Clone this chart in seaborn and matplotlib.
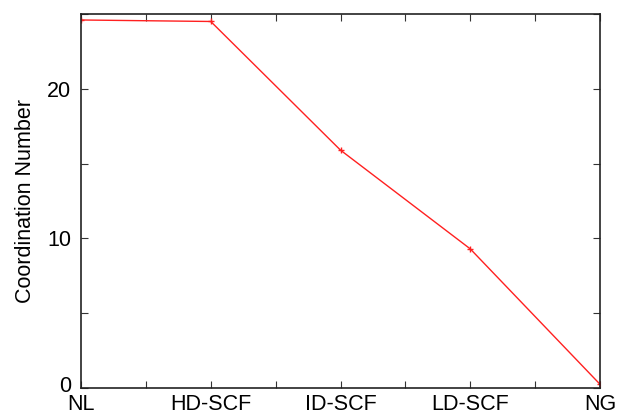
import numpy as np
import pandas as pd
import matplotlib
matplotlib.use("Agg")
import matplotlib.pyplot as plt
import matplotlib.transforms as mtransforms
import seaborn as sns
from matplotlib.ticker import MultipleLocator

# phases and coordination numbers
phases = ["NL", "HD-SCF", "ID-SCF", "LD-SCF", "NG"]
coord_num = [24.6, 24.5, 15.9, 9.3, 0.25]

df = pd.DataFrame({"phase": phases, "cn": coord_num})

sns.set_style("ticks")
plt.rcParams["font.family"] = ["Liberation Sans", "DejaVu Sans"]

fig = plt.figure(figsize=(6.18, 4.17), dpi=100)
ax = fig.add_axes([81 / 618, 1 - 388 / 417, (600 - 81) / 618, (388 - 14) / 417])

red = "#ff2020"
sns.lineplot(data=df, x="phase", y="cn", ax=ax, color=red, lw=1.0,
             marker="+", markersize=5, markeredgewidth=1.0, mec=red, sort=False)

ax.set_xlim(0, len(phases) - 1)
ax.set_ylim(0, 25)
ax.set_xlabel("")
ax.set_ylabel("Coordination Number", fontsize=15.5, color="black", labelpad=8)
ax.yaxis.set_major_locator(MultipleLocator(10))
ax.yaxis.set_minor_locator(MultipleLocator(5))
ax.xaxis.set_minor_locator(MultipleLocator(0.5))

ax.tick_params(which="both", direction="in", top=True, right=True, labelsize=15.5,
               length=5, width=0.8, color="#333333", labelcolor="black")
ax.tick_params(axis="y", pad=7)
ax.tick_params(axis="x", pad=4)
for s in ax.spines.values():
    s.set_linewidth(1.2)
    s.set_color("#222222")

# lift the "0" label a little so it clears "NL", as in the original
fig.canvas.draw()
nudge = mtransforms.ScaledTranslation(0, 3 / 72, fig.dpi_scale_trans)
for lbl in ax.get_yticklabels():
    if lbl.get_text() == "0":
        lbl.set_transform(lbl.get_transform() + nudge)

fig.savefig("out.png", dpi=100)
